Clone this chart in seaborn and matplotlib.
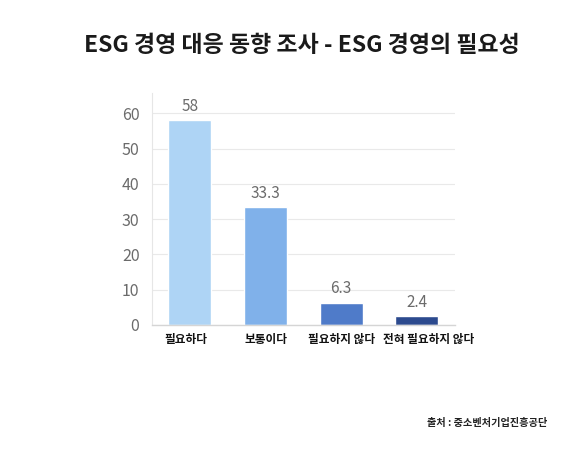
import matplotlib
matplotlib.use("Agg")
import matplotlib.pyplot as plt
import matplotlib.transforms as mtransforms
import seaborn as sns
import pandas as pd

categories = ["필요하다", "보통이다", "필요하지 않다", "전혀 필요하지 않다"]
values = [58, 33.3, 6.3, 2.4]
value_labels = ["58", "33.3", "6.3", "2.4"]
colors = ["#aed4f5", "#80b1ea", "#4f7bc9", "#2c4a8e"]
yticks = [0, 10, 20, 30, 40, 50, 60]
title = "ESG 경영 대응 동향 조사 - ESG 경영의 필요성"
source = "출처 : 중소벤처기업진흥공단"

sns.set_theme(style="white")
plt.rcParams['font.family'] = ['Noto Sans CJK KR', 'DejaVu Sans']

df = pd.DataFrame({"cat": categories, "val": values})

fig = plt.figure(figsize=(5.8, 4.5), dpi=100)
ax = fig.add_axes([0.262, 0.278, 0.522, 0.515])
sns.barplot(data=df, x="cat", y="val", hue="cat", palette=colors, legend=False,
            width=0.57, ax=ax, saturation=1)

ax.set_ylim(0, 65.7)
ax.set_xlim(-0.5, 3.5)
ax.set_yticks(yticks)
ax.set_yticklabels([str(t) for t in yticks], color="#6b6b6b", fontsize=11.5)
ax.yaxis.grid(True, color="#e9e9e9", linewidth=0.8)
ax.set_axisbelow(True)
ax.set_xlabel("")
ax.set_ylabel("")
ax.tick_params(axis="x", length=0, pad=6)
ax.tick_params(axis="y", length=0, pad=9)
label_shift_px = [-4, 1, 0, 12]
for lbl, dx in zip(ax.get_xticklabels(), label_shift_px):
    lbl.set_fontweight("bold")
    lbl.set_fontsize(8.4)
    lbl.set_color("#111111")
    lbl.set_transform(lbl.get_transform() +
                      mtransforms.ScaledTranslation(dx / 100, 0, fig.dpi_scale_trans))
for s in ["top", "right"]:
    ax.spines[s].set_visible(False)
ax.spines["left"].set_color("#e6e6e6")
ax.spines["bottom"].set_color("#d5d5d5")
ax.spines["left"].set_linewidth(0.8)
ax.spines["bottom"].set_linewidth(1.0)

for i, (v, t) in enumerate(zip(values, value_labels)):
    ax.annotate(t, (i, v), xytext=(0, 4), textcoords="offset points",
                ha="center", va="bottom", color="#6b6b6b", fontsize=11)

fig.text(0.52, 0.90, title, ha="center", va="center", fontsize=16.5,
         fontweight="bold", color="#1a1a1a")
fig.text(0.84, 0.06, source, ha="center", va="center", fontsize=7.3,
         fontweight="bold", color="#222222")

fig.savefig("out.png", dpi=100)
